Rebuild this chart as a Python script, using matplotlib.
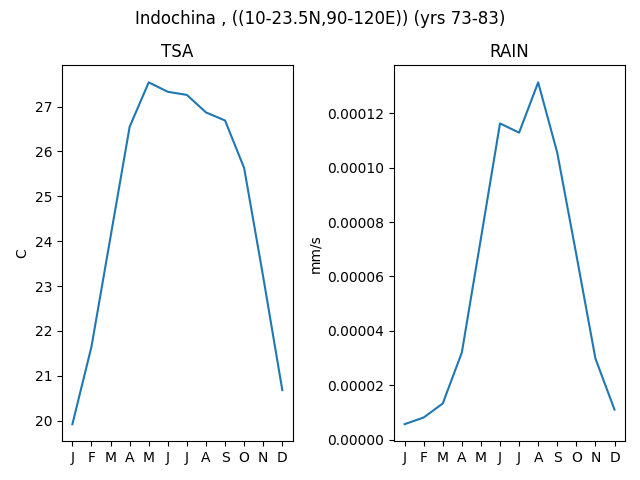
import matplotlib
matplotlib.use("Agg")
import matplotlib.pyplot as plt

months = ["J", "F", "M", "A", "M", "J", "J", "A", "S", "O", "N", "D"]
tsa = [19.92, 21.65, 24.1, 26.55, 27.54, 27.33, 27.26, 26.87, 26.69, 25.63, 23.2, 20.68]
rain = [5.64e-6, 8.1e-6, 1.325e-5, 3.2e-5, 7.4e-5, 1.163e-4, 1.129e-4, 1.314e-4,
        1.055e-4, 6.8e-5, 2.98e-5, 1.10e-5]
title = "Indochina , ((10-23.5N,90-120E)) (yrs 73-83)"

fig, (ax1, ax2) = plt.subplots(1, 2, figsize=(6.4, 4.8), dpi=100)
x = list(range(len(months)))
ax1.plot(x, tsa)
ax1.set_title("TSA")
ax1.set_ylabel("C")
ax1.set_xticks(x)
ax1.set_xticklabels(months)

ax2.plot(x, rain)
ax2.set_title("RAIN")
ax2.set_ylabel("mm/s")
ax2.set_xticks(x)
ax2.set_xticklabels(months)

fig.suptitle(title)
fig.tight_layout()
fig.subplots_adjust(top=0.864)
fig.savefig("out.png")
